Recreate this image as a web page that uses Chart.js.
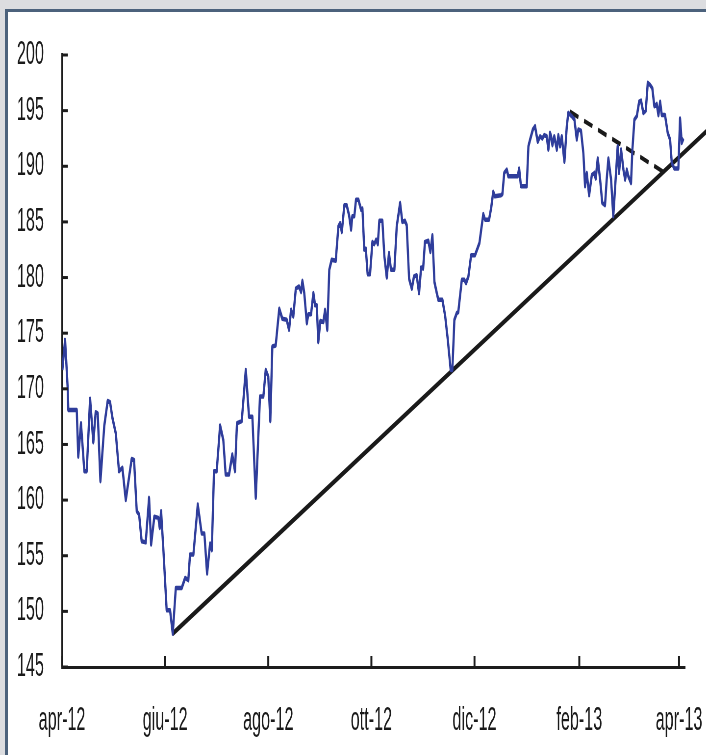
<!DOCTYPE html>
<html lang="it">
<head>
<meta charset="UTF-8">
<title>Grafico</title>
<script src="https://cdn.jsdelivr.net/npm/chart.js"></script>
<style>
  html, body { margin: 0; padding: 0; overflow: hidden; background: #dcdde0; width: 706px; height: 755px; }
  .frame { position: absolute; left: 5px; top: 9px; right: -10px; bottom: -10px; border: 3px solid #4c627c; background: #fff; }
  #chart { position: absolute; left: 0; top: 0; transform: scaleX(0.4903); transform-origin: 0 0; }
</style>
</head>
<body>
<div class="frame"></div>
<canvas id="chart" width="1440" height="755"></canvas>

<script>
// giorni dal 1 aprile 2012
const tickDays = [0, 61, 122, 183, 244, 306, 365];
const tickLabels = ['apr-12', 'giu-12', 'ago-12', 'ott-12', 'dic-12', 'feb-13', 'apr-13'];

const days = [
  0.2, 1.8, 3.4, 3.7, 8.7, 9.6, 11.2, 13.2, 14.6, 16.6, 18.5, 19.9, 21.1, 22.7, 25.0, 27.0,
  28.4, 29.8, 31.8, 33.7, 35.7, 37.7, 41.2, 42.6, 44.2, 45.6, 47.1, 49.5, 51.5, 52.7, 54.6,
  57.0, 57.8, 58.6, 59.9, 61.9, 63.9, 65.5, 67.3, 70.8, 72.8, 74.7, 75.7, 77.7, 80.3, 82.6,
  84.2, 85.8, 87.6, 88.6, 89.9, 91.5, 93.5, 95.4, 96.8, 98.8, 100.7, 102.3, 103.5, 106.3,
  108.7, 110.6, 112.6, 114.6, 117.1, 119.1, 120.5, 122.0, 123.2, 124.4, 126.4, 128.5, 130.3,
  132.9, 134.3, 135.5, 136.8, 138.3, 140.2, 141.4, 142.2, 143.3, 144.8, 145.7, 147.3, 148.7,
  149.7, 150.7, 151.6, 152.8, 154.6, 155.6, 156.9, 158.1, 159.5, 161.9, 163.5, 164.5, 165.5,
  167.0, 168.4, 169.8, 171.0, 171.7, 172.9, 173.9, 175.3, 176.9, 177.7, 178.8, 179.7, 180.8,
  182.2, 183.6, 184.7, 185.8, 186.8, 187.7, 189.5, 190.7, 192.1, 193.4, 194.6, 196.6, 198.0,
  200.0, 201.3, 202.9, 203.9, 205.3, 206.9, 208.2, 209.8, 211.2, 212.4, 213.6, 214.7, 216.7,
  217.9, 219.1, 220.3, 221.7, 222.6, 225.0, 226.6, 228.2, 229.9, 230.9, 232.1, 233.5, 234.4,
  236.5, 238.0, 239.0, 240.4, 242.0, 244.3, 246.9, 249.2, 250.2, 252.6, 253.8, 255.1, 256.1,
  259.7, 260.5, 261.6, 263.1, 264.0, 269.6, 270.4, 271.5, 274.9, 275.9, 276.9, 278.5, 279.8,
  281.4, 282.8, 284.1, 285.3, 286.7, 287.7, 288.7, 289.3, 290.1, 291.2, 292.7, 293.6, 294.6,
  295.6, 297.2, 298.6, 299.5, 301.5, 303.1, 304.5, 305.4, 307.0, 308.4, 309.4, 310.4, 311.8,
  313.4, 314.9, 315.7, 316.9, 318.3, 319.6, 321.2, 322.2, 323.2, 324.8, 326.1, 327.6, 328.7,
  329.5, 330.7, 332.1, 333.1, 334.1, 335.0, 336.6, 337.4, 338.6, 340.0, 341.4, 342.5, 343.9,
  345.3, 346.5, 347.9, 349.2, 350.4, 351.8, 352.8, 353.8, 354.8, 356.7, 358.3, 359.7, 360.7,
  362.2, 364.6, 365.6, 366.6, 367.6
];
const prices = [
  171.7, 174.4, 169.9, 168.1, 168.1, 163.9, 166.9, 162.6, 162.6, 169.1, 165.2, 167.9, 167.8, 161.7, 166.7, 168.9,
  168.8, 167.4, 166.0, 162.6, 162.9, 160.0, 163.7, 163.6, 159.0, 158.7, 156.3, 156.2, 160.2, 156.0, 158.5,
  158.4, 157.5, 159.0, 155.7, 150.1, 150.1, 148.0, 152.1, 152.1, 153.0, 152.8, 155.1, 155.1, 159.6, 157.0,
  157.0, 153.4, 156.1, 155.5, 162.6, 162.6, 166.7, 165.4, 162.3, 162.3, 164.1, 162.6, 166.9, 167.1,
  171.7, 167.5, 167.5, 160.2, 169.3, 169.3, 171.7, 171.1, 167.1, 173.8, 173.9, 177.2, 176.3,
  176.2, 175.3, 177.1, 176.5, 179.0, 179.2, 178.7, 179.7, 178.6, 175.9, 176.7, 176.7, 178.6,
  177.5, 177.5, 174.2, 176.1, 176.0, 177.1, 175.3, 180.7, 181.6, 181.5, 184.6, 184.9, 184.1,
  186.5, 186.5, 185.6, 184.3, 185.5, 185.5, 187.0, 187.0, 186.1, 186.2, 182.5, 182.6, 180.3,
  180.3, 183.2, 183.0, 183.4, 183.0, 185.1, 185.1, 181.9, 180.0, 182.2, 180.7, 180.7, 184.6,
  186.7, 185.0, 185.1, 184.7, 179.9, 179.0, 180.1, 180.2, 178.6, 180.9, 180.8, 183.2, 183.3,
  182.3, 183.8, 179.6, 178.6, 178.0, 178.0, 176.6, 174.4, 171.7, 171.7, 176.2, 176.8, 176.9,
  179.8, 179.8, 179.5, 180.1, 182.0, 182.0, 183.1, 185.7, 185.2, 185.2, 186.2, 187.7, 187.3,
  187.4, 187.5, 189.4, 189.7, 189.1, 189.1, 189.8, 188.2, 188.2, 191.8, 192.4, 193.3, 193.6,
  192.2, 192.7, 192.5, 192.8, 192.7, 191.5, 193.0, 192.7, 191.9, 192.7, 191.5, 192.8, 191.8,
  192.7, 190.4, 193.6, 194.8, 194.5, 194.2, 192.4, 193.3, 193.2, 191.2, 188.2, 189.4, 187.4,
  189.2, 189.4, 188.9, 190.7, 188.8, 186.7, 186.5, 188.8, 190.7, 188.8, 185.5, 189.1, 191.8,
  189.4, 191.5, 189.7, 188.8, 189.7, 189.1, 188.5, 191.5, 194.2, 194.5, 195.8, 195.9, 194.8,
  195.0, 197.5, 197.3, 197.0, 195.4, 195.6, 194.6, 195.8, 194.6, 194.6, 193.0, 192.4, 190.3,
  189.8, 189.8, 194.3, 192.1, 192.5
];

// linea di tendenza e linea tratteggiata
const trendDays = [65.5, 388];
const trendValues = [148.0, 194.1];
const dashDays = [300.5, 355.7];
const dashValues = [194.9, 189.5];

const toPoints = (xs, ys) => xs.map((x, i) => ({ x: x, y: ys[i] }));

const FONT = { family: "'Liberation Sans', Arial, sans-serif", size: 33 };
const AXIS = '#1c1c1c';

const noPad = axis => {
  axis.paddingLeft = 0; axis.paddingRight = 0;
  axis.paddingTop = 0; axis.paddingBottom = 0;
};

// tacche rivolte verso l'interno
const innerTicks = {
  id: 'innerTicks',
  afterDraw(chart) {
    const ctx = chart.ctx;
    const xs = chart.scales.x, ys = chart.scales.y;
    ctx.save();
    ctx.strokeStyle = AXIS;
    ctx.lineWidth = 3;
    ys.ticks.forEach(t => {
      const py = ys.getPixelForValue(t.value);
      ctx.beginPath();
      ctx.moveTo(xs.left, py);
      ctx.lineTo(xs.left + 12, py);
      ctx.stroke();
    });
    ctx.lineWidth = 4;
    xs.ticks.forEach(t => {
      const px = xs.getPixelForValue(t.value);
      ctx.beginPath();
      ctx.moveTo(px, ys.bottom);
      ctx.lineTo(px, ys.bottom - 11);
      ctx.stroke();
    });
    ctx.restore();
  }
};

new Chart(document.getElementById('chart'), {
  type: 'line',
  data: {
    datasets: [
      {
        data: toPoints(days, prices),
        borderColor: '#2f3d9b',
        borderWidth: 4.5,
        pointRadius: 0,
        tension: 0,
        borderJoinStyle: 'round'
      },
      {
        data: toPoints(trendDays, trendValues),
        borderColor: '#1a1a1a',
        borderWidth: 5,
        pointRadius: 0,
        clip: false
      },
      {
        data: toPoints(dashDays, dashValues),
        borderColor: '#1a1a1a',
        borderWidth: 4.5,
        borderDash: [18, 12],
        pointRadius: 0
      }
    ]
  },
  options: {
    responsive: false,
    animation: false,
    layout: { padding: { left: 0, top: 55, right: 43, bottom: 0 } },
    plugins: { legend: { display: false }, tooltip: { enabled: false } },
    scales: {
      x: {
        type: 'linear',
        min: 0,
        max: 368.5,
        afterBuildTicks: axis => { axis.ticks = tickDays.map(v => ({ value: v })); },
        afterFit: axis => { axis.height = 88; noPad(axis); },
        grid: { display: false, drawTicks: false },
        border: { color: AXIS, width: 3 },
        ticks: {
          autoSkip: false,
          maxRotation: 0,
          padding: 34,
          color: '#1a1a1a',
          font: FONT,
          callback: v => tickLabels[tickDays.indexOf(v)]
        }
      },
      y: {
        min: 145,
        max: 200,
        afterFit: axis => { axis.width = 126.5; noPad(axis); },
        grid: { display: false, drawTicks: false },
        border: { color: AXIS, width: 4 },
        ticks: { stepSize: 5, padding: 37, color: '#1a1a1a', font: FONT }
      }
    }
  },
  plugins: [innerTicks]
});
</script>
</body>
</html>
